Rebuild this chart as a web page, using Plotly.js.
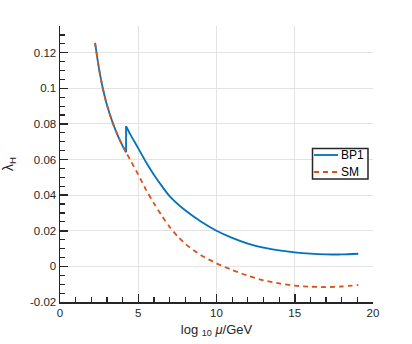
<!DOCTYPE html>
<html>
<head>
<meta charset="utf-8">
<script src="https://cdn.plot.ly/plotly-3.0.1.min.js"></script>
<style>html,body{margin:0;padding:0;background:#fff;}#plot{width:412px;height:344px;}</style>
</head>
<body>
<div id="plot"></div>
<script>
// log10(mu/GeV) values and quartic coupling lambda_H.
// BP1 is split at the threshold jump (null separates the segments).
const bp1X = [2.24, 2.5, 2.73, 3.0, 3.41, 3.75, 4.0, 4.22, null, 4.22, 4.22, null, 4.22, 4.5, 5.0, 5.5, 6.0, 6.5, 7.0, 8.0, 9.0, 10.0, 11.0, 12.0, 13.0, 14.0, 15.0, 16.0, 17.0, 18.0, 19.06];
const bp1Y = [0.1255, 0.1106, 0.1002, 0.0906, 0.0796, 0.0723, 0.0677, 0.0641, null, 0.0641, 0.0787, null, 0.0787, 0.0740, 0.0663, 0.0585, 0.0515, 0.0452, 0.0395, 0.0315, 0.0252, 0.0200, 0.0160, 0.0128, 0.0105, 0.0090, 0.0079, 0.0072, 0.0068, 0.0067, 0.0071];
const smX = [2.24, 2.5, 2.73, 3.0, 3.41, 3.75, 4.0, 4.22, 4.5, 5.0, 5.5, 6.0, 6.5, 7.0, 7.5, 8.0, 9.0, 10.0, 11.0, 12.0, 13.0, 14.0, 15.0, 16.0, 17.0, 18.0, 19.06];
const smY = [0.1255, 0.1106, 0.1002, 0.0906, 0.0796, 0.0723, 0.0677, 0.0641, 0.0596, 0.0515, 0.0430, 0.0354, 0.0285, 0.0222, 0.0170, 0.0127, 0.0063, 0.0017, -0.0020, -0.0052, -0.0078, -0.0096, -0.0108, -0.0114, -0.0116, -0.0113, -0.0104];
const seriesNames = ['BP1', 'SM'];
const seriesColors = ['#0072BD', '#D95319'];
const xTickVals = [0, 5, 10, 15, 20];
const xTickText = ['0', '5', '10', '15', '20'];
const yTickVals = [-0.02, 0, 0.02, 0.04, 0.06, 0.08, 0.1, 0.12];
const yTickText = ['-0.02', '0', '0.02', '0.04', '0.06', '0.08', '0.1', '0.12'];

const ink = '#262626';
const fam = 'Liberation Sans, Arial, sans-serif';
const font = {family: fam, size: 11.5, color: ink};
const smDash = '5px,4px';

const traces = [
  {x: bp1X, y: bp1Y, name: seriesNames[0], mode: 'lines', connectgaps: false,
   line: {color: seriesColors[0], width: 1.8, shape: 'spline', smoothing: 0.8}},
  {x: smX, y: smY, name: seriesNames[1], mode: 'lines',
   line: {color: seriesColors[1], width: 1.8, dash: smDash, shape: 'spline', smoothing: 0.8}}
];

// plot area in pixels: left 60, right 373, top 26, bottom 302
const W = 412, H = 344, L = 60, R = 39, T = 26, B = 42;
const PW = W - L - R, PH = H - T - B;
const px = v => (v - L) / PW;
const py = v => (H - B - v) / PH;

// MATLAB-style legend box
const shapes = [
  {type: 'rect', xref: 'paper', yref: 'paper', x0: px(312.5), x1: px(368), y0: py(179), y1: py(148.5),
   line: {color: ink, width: 1.5}, fillcolor: '#fff', layer: 'above'},
  {type: 'line', xref: 'paper', yref: 'paper', x0: px(314), x1: px(338), y0: py(155), y1: py(155),
   line: {color: seriesColors[0], width: 1.8}, layer: 'above'},
  {type: 'line', xref: 'paper', yref: 'paper', x0: px(314), x1: px(338), y0: py(172), y1: py(172),
   line: {color: seriesColors[1], width: 1.8, dash: smDash}, layer: 'above'}
];
const annotations = [
  {xref: 'paper', yref: 'paper', x: px(339), y: py(155), xanchor: 'left', yanchor: 'middle',
   text: seriesNames[0], showarrow: false, font: {family: fam, size: 12, color: '#000'}},
  {xref: 'paper', yref: 'paper', x: px(339), y: py(172), xanchor: 'left', yanchor: 'middle',
   text: seriesNames[1], showarrow: false, font: {family: fam, size: 12, color: '#000'}}
];

const axisCommon = {
  showline: true, linecolor: ink, linewidth: 1.5, mirror: false,
  ticks: 'inside', ticklen: 8, tickwidth: 1.5, tickcolor: ink,
  showgrid: true, gridcolor: '#e3e3e3', gridwidth: 1,
  zeroline: false, tickfont: font
};

const layout = {
  width: W, height: H,
  margin: {l: L, r: R, t: T, b: B},
  paper_bgcolor: '#fff', plot_bgcolor: '#fff',
  font: font,
  showlegend: false,
  shapes: shapes,
  annotations: annotations,
  xaxis: Object.assign({}, axisCommon, {
    range: [0, 20], tickmode: 'array', tickvals: xTickVals, ticktext: xTickText,
    minor: {tickmode: 'linear', tick0: 0, dtick: 1, ticks: 'inside', ticklen: 5, tickwidth: 1.2, tickcolor: ink, showgrid: false},
    title: {text: 'log <sub>10</sub> <i>μ</i>/GeV', font: {family: fam, size: 13, color: ink}, standoff: 6}
  }),
  yaxis: Object.assign({}, axisCommon, {
    range: [-0.02, 0.135], tickmode: 'array', tickvals: yTickVals, ticktext: yTickText,
    minor: {tickmode: 'linear', tick0: 0, dtick: 0.005, ticks: 'inside', ticklen: 5, tickwidth: 1.2, tickcolor: ink, showgrid: false},
    title: {text: 'λ<sub>H</sub>', font: {family: fam, size: 14, color: ink}, standoff: 14}
  })
};

Plotly.newPlot('plot', traces, layout, {staticPlot: true, displayModeBar: false});
</script>
</body>
</html>
